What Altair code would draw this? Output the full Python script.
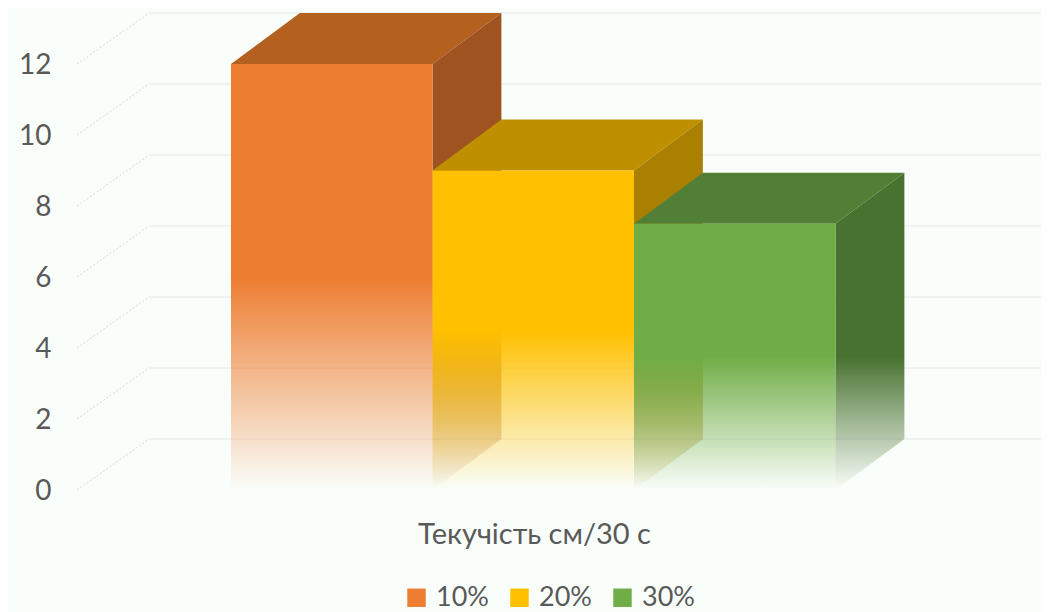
import altair as alt
import pandas as pd

series = ["10%", "20%", "30%"]
values = [12, 9, 7.5]
front = ["#ED7D31", "#FFC000", "#70AD47"]
top = ["#B4601F", "#BE9000", "#527F36"]
side = ["#9F5320", "#AA8000", "#487230"]
ticks = [0, 2, 4, 6, 8, 10, 12]
title = "Текучість см/30 с"
depth_x = 0.342
depth_y = 1.437
x_dom = [-0.799, 4.02]
y_dom = [0, 13.58]
font = "Lato"
ink = "#595959"
bg = "#FAFEFA"

x_axis = alt.Axis(labels=False, ticks=False, domain=False, grid=False, title=title,
                  titleFont=font, titleFontSize=29, titleFontWeight="normal", titleColor=ink,
                  titleX=464, titleY=44, titleBaseline="middle", titleAlign="center")
y_axis = alt.Axis(values=ticks, ticks=False, domain=False, grid=False, title=None,
                  labelFont=font, labelFontSize=28, labelColor=ink, labelPadding=19, labelOffset=1)
X = alt.X("x:Q", scale=alt.Scale(domain=x_dom, nice=False), axis=x_axis)
Y = alt.Y("y:Q", scale=alt.Scale(domain=y_dom, nice=False), axis=y_axis)


def fade(color, start):
    return alt.Gradient(gradient="linear", x1=0, y1=0, x2=0, y2=1, stops=[
        alt.GradientStop(color=color + "ff", offset=0),
        alt.GradientStop(color=color + "ff", offset=start),
        alt.GradientStop(color=color + "00", offset=1),
    ])


layers = []
gx = [x_dom[0] + 0.035, x_dom[0] + 0.392, x_dom[1]]
for v in ticks:
    up = v + depth_y
    diag = pd.DataFrame({"x": gx[:2], "y": [v, up]})
    flat = pd.DataFrame({"x": gx[1:], "y": [up, up]})
    layers.append(alt.Chart(diag).mark_line(color="#D6DAD6", strokeWidth=1, strokeDash=[2, 2]).encode(x=X, y=Y))
    layers.append(alt.Chart(flat).mark_line(color="#F0F2F0", strokeWidth=2).encode(x=X, y=Y))

for i, v in enumerate(values):
    up = v + depth_y
    t = pd.DataFrame({"x": [i, i + depth_x, i + 1, i + 1 + depth_x],
                      "y": [v, v, v, up], "y2": [v, up, up, up]})
    s = pd.DataFrame({"x": [i + 1, i + 1 + depth_x], "y": [v, up], "y2": [0, depth_y]})
    f = pd.DataFrame({"x": [i], "x2": [i + 1], "y": [v], "y2": [0]})
    layers.append(alt.Chart(t).mark_area(fill=top[i], opacity=1).encode(x=X, y=Y, y2="y2:Q"))
    layers.append(alt.Chart(s).mark_area(fill=fade(side[i], 0.58), opacity=1).encode(x=X, y=Y, y2="y2:Q"))
    layers.append(alt.Chart(f).mark_bar(fill=fade(front[i], 0.5), opacity=1).encode(x=X, x2="x2:Q", y=Y, y2="y2:Q"))

legend_df = pd.DataFrame({"x": [0, 1, 2], "y": [0, 0, 0], "s": series})
layers.append(alt.Chart(legend_df).mark_square(size=0, opacity=1).encode(
    x=X, y=Y,
    color=alt.Color("s:N", scale=alt.Scale(domain=series, range=front), legend=alt.Legend(
        orient="none", legendX=333, legendY=576, direction="horizontal", title=None,
        symbolType="square", symbolSize=340, symbolStrokeWidth=0,
        labelFont=font, labelFontSize=27, labelColor=ink, columnPadding=17, labelOffset=6)),
))

chart = alt.layer(*layers).properties(
    width=971, height=482, background=bg,
    padding={"left": 62, "top": 0, "right": 0, "bottom": 122},
    autosize=alt.AutoSizeParams(type="none"),
).configure_view(stroke=None, fill=bg)

chart.save("out.html", embed_options={"renderer": "svg", "actions": False})
